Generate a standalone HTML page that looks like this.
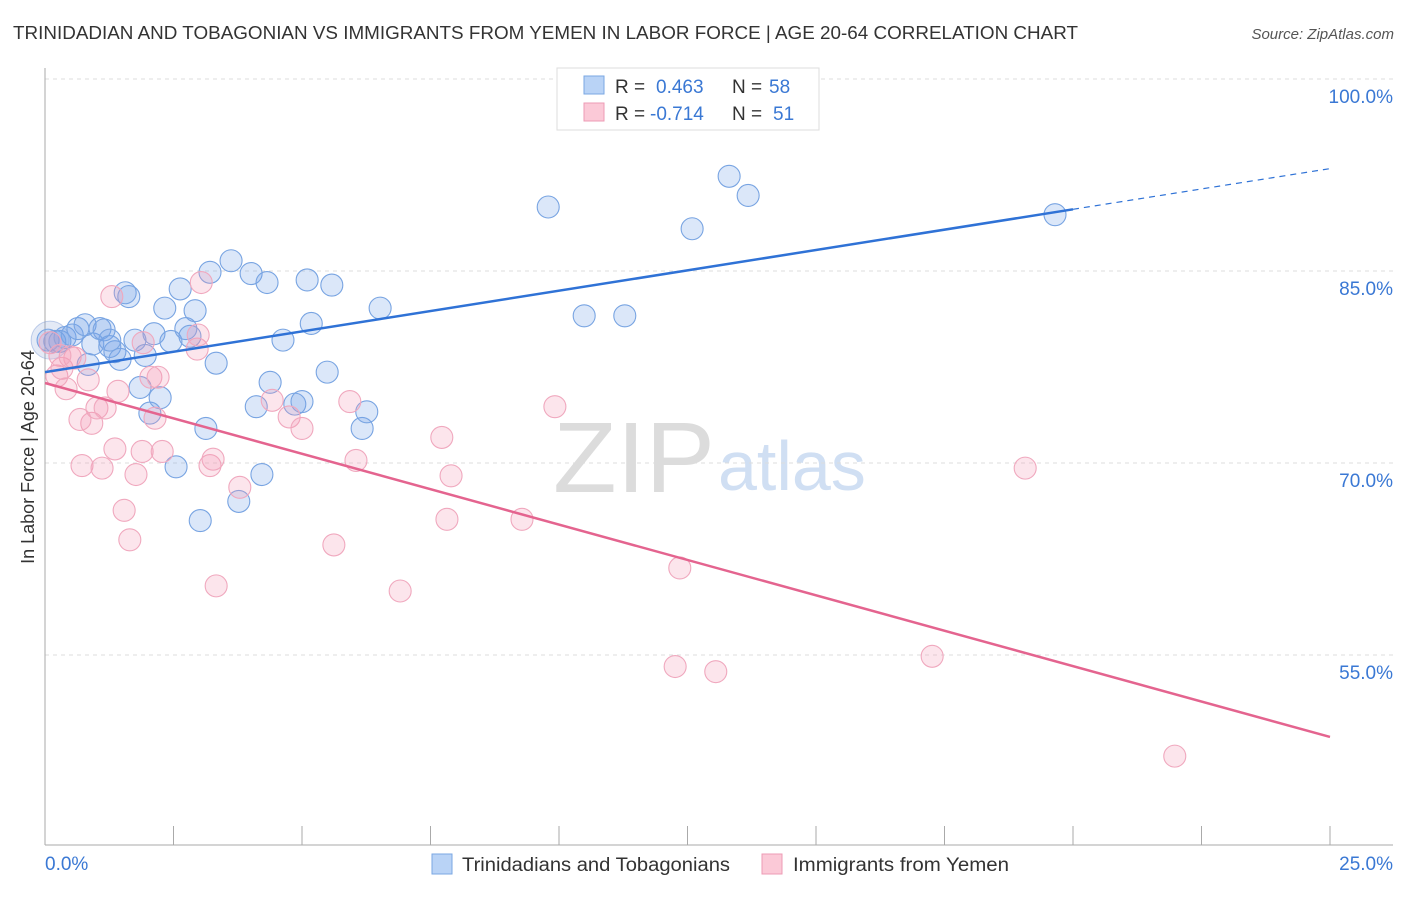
<!DOCTYPE html>
<html><head><meta charset="utf-8"><style>
body{margin:0;background:#fff;font-family:"Liberation Sans",sans-serif}
svg text{font-family:"Liberation Sans",sans-serif}
</style></head><body>
<svg id="chart" width="1406" height="892" xmlns="http://www.w3.org/2000/svg">
<text x="13" y="39" font-size="18" fill="#333" textLength="1065" lengthAdjust="spacingAndGlyphs">TRINIDADIAN AND TOBAGONIAN VS IMMIGRANTS FROM YEMEN IN LABOR FORCE | AGE 20-64 CORRELATION CHART</text>
<text x="1394" y="39" font-size="15" fill="#555" text-anchor="end" font-style="italic">Source: ZipAtlas.com</text>
<g>
<text x="553" y="492" font-size="100" fill="#dcdcdc" font-family="Liberation Serif,serif" textLength="162" lengthAdjust="spacingAndGlyphs">ZIP</text>
<text x="718" y="490" font-size="70" fill="#d0dff3">atlas</text>
</g>
<g id="grid"></g>
<g id="axes"></g>
<g id="points"></g>
<g id="trends"></g>
<text transform="translate(34,457) rotate(-90)" font-size="18" fill="#333" text-anchor="middle">In Labor Force | Age 20-64</text>
<g>
<rect x="557" y="68" width="262" height="62" fill="#fff" stroke="#ddd"/>
<rect x="584" y="76" width="20" height="18" fill="#b9d3f6" stroke="#7aa7e3"/>
<rect x="584" y="103" width="20" height="18" fill="#fbc9d7" stroke="#ee9bb4"/>
<text x="615" y="93" font-size="19" fill="#333">R = <tspan fill="#3a78d4" x="656">0.463</tspan><tspan fill="#333" x="732">N =</tspan><tspan fill="#3a78d4" x="769">58</tspan></text>
<text x="615" y="120" font-size="19" fill="#333">R = <tspan fill="#3a78d4" x="650">-0.714</tspan><tspan fill="#333" x="732">N =</tspan><tspan fill="#3a78d4" x="773">51</tspan></text>
</g>
<g>
<rect x="432" y="854" width="20" height="20" fill="#b9d3f6" stroke="#7aa7e3"/>
<text x="462" y="871" font-size="19" fill="#333" textLength="268" lengthAdjust="spacingAndGlyphs">Trinidadians and Tobagonians</text>
<rect x="762" y="854" width="20" height="20" fill="#fbc9d7" stroke="#ee9bb4"/>
<text x="793" y="871" font-size="19" fill="#333" textLength="216" lengthAdjust="spacingAndGlyphs">Immigrants from Yemen</text>
</g>
</svg>
<script>
const blueX=[0.06,0.19,0.29,0.39,0.53,0.64,0.78,0.93,1.07,1.15,1.26,1.36,1.46,1.56,1.63,1.75,1.85,1.95,2.04,2.12,2.24,2.33,2.45,2.55,2.63,2.74,2.82,2.92,3.02,3.13,3.21,3.33,3.62,3.77,4.01,4.11,4.22,4.32,4.38,4.63,4.86,5.00,5.10,5.18,5.49,5.58,6.17,6.26,6.52,9.79,10.49,11.28,12.59,13.31,13.68,19.65,0.84,1.26];
const blueY=[79.6,79.5,79.5,79.8,80.0,80.5,80.8,79.3,80.5,80.4,79.1,78.7,78.1,83.3,83.0,79.6,75.9,78.4,73.9,80.1,75.1,82.1,79.5,69.7,83.6,80.5,79.9,81.9,65.5,72.7,84.9,77.8,85.8,67.0,84.8,74.4,69.1,84.1,76.3,79.6,74.6,74.8,84.3,80.9,77.1,83.9,72.7,74.0,82.1,90.0,81.5,81.5,88.3,92.4,90.9,89.4,77.7,79.6];
const pinkX=[0.10,0.23,0.33,0.41,0.49,0.58,0.72,0.84,0.91,1.01,1.11,1.17,1.30,1.36,1.42,1.54,1.65,1.77,1.89,1.91,2.06,2.14,2.20,2.28,2.96,2.98,3.04,3.21,3.27,3.33,3.79,4.42,4.75,5.00,5.62,5.93,6.05,6.91,7.72,7.82,7.90,9.28,9.92,12.35,12.26,13.05,17.26,19.07,21.98,0.29,0.68];
const pinkY=[79.4,76.8,77.4,75.8,78.3,78.2,69.8,76.5,73.1,74.3,69.6,74.3,83.0,71.1,75.6,66.3,64.0,69.1,70.9,79.4,76.7,73.5,76.7,70.9,78.9,80.0,84.1,69.8,70.3,60.4,68.1,74.9,73.6,72.7,63.6,74.8,70.2,60.0,72.0,65.6,69.0,65.6,74.4,61.8,54.1,53.7,54.9,69.6,47.1,78.4,73.4];
const yTicks=[100,85,70,55];
const yTickLabels=["100.0%","85.0%","70.0%","55.0%"];
const xTicks=[0,2.5,5,7.5,10,12.5,15,17.5,20,22.5,25];
const xTickLabels=["0.0%","25.0%"];
const blueTrend=[77.1,93.0];
const pinkTrend=[76.25,48.6];
const blueSolidEnd=20;

const NS="http://www.w3.org/2000/svg";
const X0=45,X1=1330,Y100=79,PX_PER=12.8;
const sx=v=>X0+(v/25)*(X1-X0);
const sy=v=>Y100+(100-v)*PX_PER;
function mk(tag,attrs,parent){const e=document.createElementNS(NS,tag);for(const k in attrs)e.setAttribute(k,attrs[k]);document.getElementById(parent).appendChild(e);return e;}

yTicks.forEach((t,i)=>{
 const l=mk('line',{x1:45,x2:1393,y1:sy(t),y2:sy(t),stroke:'#ddd','stroke-dasharray':'4,4'},'grid');
 
 
 const tx=mk('text',{x:1393,y:sy(t)+24,'font-size':19,fill:'#3a78d4','text-anchor':'end'},'grid');
 tx.textContent=yTickLabels[i];
 
 
});
const ax=mk('line',{x1:45,x2:45,y1:68,y2:845,stroke:'#aaa'},'axes');


const bx=mk('line',{x1:45,x2:1393,y1:845,y2:845,stroke:'#aaa'},'axes');


xTicks.forEach(t=>{
 const l=mk('line',{x1:sx(t),x2:sx(t),y1:826,y2:845,stroke:'#aaa'},'axes');
 
 
});
const xl0=mk('text',{x:45,y:870,'font-size':19,fill:'#3a78d4'},'axes');xl0.textContent=xTickLabels[0];


const xl1=mk('text',{x:1393,y:870,'font-size':19,fill:'#3a78d4','text-anchor':'end'},'axes');xl1.textContent=xTickLabels[1];



const big=mk('circle',{cx:sx(0.1),cy:sy(79.6),r:19,fill:'rgba(120,150,210,0.2)',stroke:'rgba(120,150,210,0.45)'},'points');


blueX.forEach((v,i)=>{
 const c=mk('circle',{cx:sx(v),cy:sy(blueY[i]),r:11,fill:'rgba(110,160,230,0.25)',stroke:'#78a4e2','stroke-width':1.1},'points');
 
 
});
pinkX.forEach((v,i)=>{
 const c=mk('circle',{cx:sx(v),cy:sy(pinkY[i]),r:11,fill:'rgba(245,150,180,0.25)',stroke:'#f0a8be','stroke-width':1.1},'points');
 
 
});
const by=x=>blueTrend[0]+(blueTrend[1]-blueTrend[0])*x/25;
const b1=mk('line',{x1:sx(0),y1:sy(by(0)),x2:sx(blueSolidEnd),y2:sy(by(blueSolidEnd)),stroke:'#2f72d6','stroke-width':2.5},'trends');


const b2=mk('line',{x1:sx(blueSolidEnd),y1:sy(by(blueSolidEnd)),x2:sx(25),y2:sy(by(25)),stroke:'#2f72d6','stroke-width':1.2,'stroke-dasharray':'6,5'},'trends');


const p1=mk('line',{x1:sx(0),y1:sy(pinkTrend[0]),x2:sx(25),y2:sy(pinkTrend[1]),stroke:'#e4648f','stroke-width':2.5},'trends');


</script>
</body></html>
